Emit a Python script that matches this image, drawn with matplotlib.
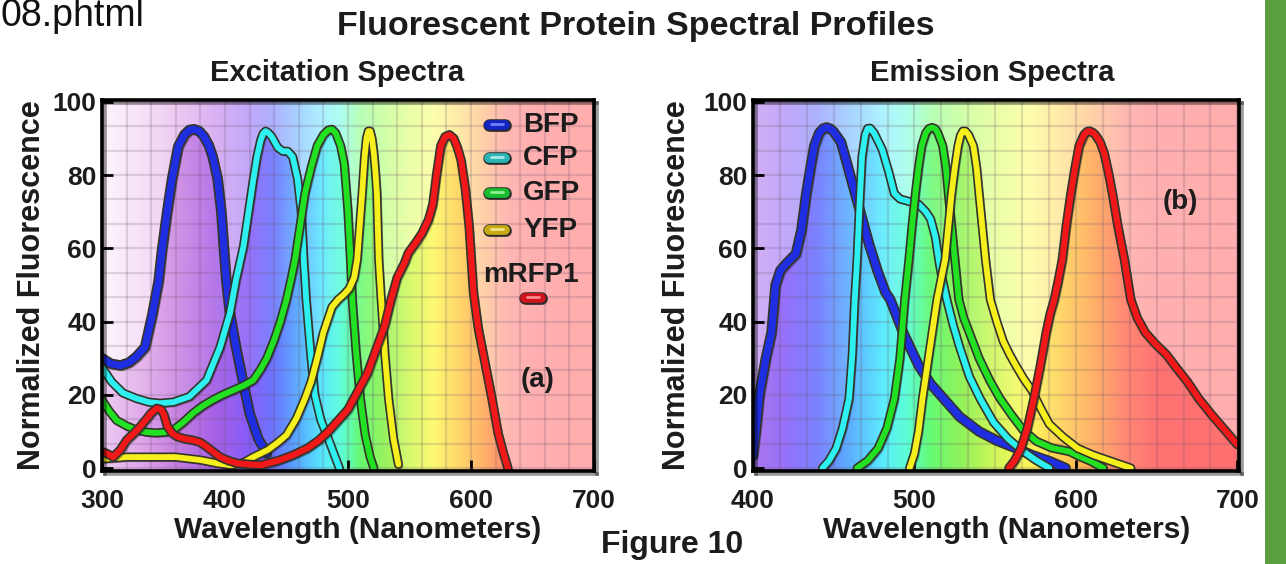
import numpy as np
import matplotlib
matplotlib.use("Agg")
import matplotlib.pyplot as plt
import matplotlib.patheffects as pe
from matplotlib.patches import Polygon, Rectangle

plt.rcParams["font.family"] = ["Liberation Sans", "DejaVu Sans"]
plt.rcParams["font.weight"] = "bold"

# ---- excitation spectra ----
EX_WL_BFP = [300, 307, 315, 322, 328, 335, 341, 346, 349, 353, 357, 362, 367, 371, 375, 379,
             383, 387, 390, 394, 397, 399, 401, 404, 409, 415, 420, 427, 434]
EX_BFP = [30, 28.5, 28, 28.8, 30.4, 33, 42, 51, 60, 70, 79, 87.8, 91, 92.3, 92.5, 92,
          90.5, 88, 85, 79, 70, 60.5, 51.4, 42.3, 33, 23, 15, 8, 4]

EX_WL_CFP = [300, 308, 317, 328, 338, 347, 358, 371, 385, 396, 404, 409, 415, 419, 423, 426,
             429, 431, 433, 435, 438, 443, 447, 451, 455, 459, 462, 464, 466, 470, 473, 478,
             484, 489, 493]
EX_CFP = [27.5, 23.5, 20.5, 19, 18, 17.7, 18, 19.5, 24, 33, 42.3, 51.4, 60.5, 69.6, 78.7, 85,
          89.5, 91.3, 92, 91.6, 90.5, 87.5, 86.5, 86.5, 85, 79, 70, 57, 46, 30, 20, 13,
          8, 3.5, 0]

EX_WL_GFP = [300, 306, 312, 320, 328, 336, 344, 352, 358, 366, 374, 382, 390, 398, 407, 415,
             423, 429, 434, 440, 445, 450, 454, 457, 461, 465, 470, 475, 480, 484, 487, 490,
             494, 497, 500, 502, 503.5, 506.5, 510, 514, 518, 521]
EX_GFP = [18.6, 15.5, 13, 11.5, 10.4, 9.8, 9.6, 9.8, 10.4, 12.5, 15, 17, 18.6, 20, 21.3, 22.5,
          24, 27, 30, 35, 40, 46, 52, 57, 66, 75, 82, 88, 91, 92.3, 92.5, 91.5,
          88, 83, 70, 57, 46, 32, 19, 9, 3, 0]

EX_WL_YFP = [300, 320, 340, 360, 380, 395, 405, 415, 423, 435, 443, 450, 458, 465, 470, 475,
             480, 484, 487, 492, 497, 501, 505, 507.5, 509.5, 511.5, 513.5, 515, 516.5, 518,
             519.5, 521, 522.3, 523.5, 525, 527, 530, 533, 537, 541]
EX_YFP = [2.5, 3, 3, 3, 2.2, 1.2, 0.8, 1.5, 3, 5, 7, 9, 13.5, 19, 23.6, 30,
          37, 41, 44, 46, 47.5, 49, 52, 57, 66, 75, 85, 90, 92, 92,
          90, 86, 81, 75, 57, 46, 31, 19, 8, 1]

EX_WL_RFP = [300, 305, 309, 315, 320, 326, 331, 336, 340, 344.5, 348, 350.5, 353, 357, 361,
             367, 374, 380, 385, 391, 396, 403, 410, 420, 429, 443, 455, 467, 476, 484, 492,
             500, 508, 516, 523, 530, 535, 540, 546, 549, 555, 560, 565.5, 569, 572, 575.5,
             579, 582.5, 586, 589, 592, 595.5, 598.5, 602, 606, 612, 617, 622, 626, 630]
EX_RFP = [4.5, 3.8, 3, 5, 7.6, 9.5, 11.3, 13.3, 15, 16.3, 16, 14.5, 11.5, 9.5, 8.6,
          8, 7.6, 7, 5.8, 4.3, 3, 2, 1.3, 1, 0.8, 2, 3.5, 5.4, 7.5, 10, 13,
          16, 21, 26, 32.5, 39, 46, 52, 56, 58.7, 61.5, 64, 67.8, 72, 80, 88,
          90.5, 91, 90, 87.5, 84, 76, 66, 48, 38, 27.7, 19, 9.6, 4.5, 0]

# ---- emission spectra ----
EM_WL_BFP = [400, 402, 404, 408, 411.5, 414, 417, 421, 426.6, 430, 433, 436, 438, 441, 443.5,
             445.7, 448, 450, 454.5, 458, 462, 467, 472, 477, 482, 485, 493, 502.6, 510, 518,
             528, 540, 551, 563, 573, 583.5, 593.6]
EM_BFP = [3.5, 11, 20, 30, 37, 50, 54, 56, 58.5, 65, 75, 83, 88, 91.5, 92.7,
          93, 92.6, 91.8, 89, 83.5, 77, 69, 61, 54, 48, 46, 37, 28, 23, 19,
          14, 10, 7.5, 5.4, 3.5, 1.9, 0]

EM_WL_CFP = [443, 447, 451.5, 455.5, 459.5, 461.5, 463, 464.5, 466, 467.5, 469.5, 471, 472.5,
             475, 480, 484, 487.5, 491, 495, 502.6, 507, 510, 513, 515, 517, 519, 520, 524,
             528, 534, 540.6, 549, 558, 566, 575, 583.5]
EM_CFP = [0, 2, 5.4, 11, 19, 31, 46, 57, 72, 85, 91, 92.7, 92.8,
          91.5, 87, 81, 75, 73.5, 73, 72, 70, 68, 63, 57, 52, 48, 46, 39,
          33, 25, 19, 12.5, 8, 5, 2.2, 0]

EM_WL_GFP = [464.5, 471, 477.5, 483, 487.6, 491, 494, 496.6, 498.5, 500.6, 502.5, 504.5, 507,
             509, 511, 513, 514.5, 517.5, 519.5, 521, 523, 525, 527.5, 530.5, 534, 540, 547,
             553, 560, 567, 575.6, 585, 596, 603, 609, 617]
EM_GFP = [0, 2, 5.4, 11, 19, 30, 46, 57, 66, 75, 82, 88, 91.5,
          92.7, 93, 92.6, 91.5, 88, 82, 75, 66, 57, 46, 41, 37, 30, 23.6,
          19, 14.6, 10.5, 7.3, 5.5, 4.5, 3, 1.9, 0]

EM_WL_YFP = [497, 500, 502.5, 505, 508, 511, 514, 516.5, 519, 521, 523, 525, 527, 528.5, 530,
             531.5, 533.5, 536.5, 538.5, 540, 542, 544, 547, 551, 555, 559, 562.8, 567.5,
             573, 578, 583.5, 592, 601, 611, 621.5, 634]
EM_YFP = [0, 4, 10, 19, 28, 37, 46, 51.5, 57, 66, 75, 82, 88, 90.8, 92, 92,
          91, 88, 82, 75, 66, 57, 46, 40, 34.6, 31, 28, 24.5,
          21, 16.5, 12, 8.5, 5.4, 3.5, 1.9, 0]

EM_WL_RFP = [558.5, 562, 566, 570, 574, 578, 581.6, 584, 586.6, 589, 591.6, 594, 596.9, 599.5,
             602, 605, 607, 608.6, 610.5, 612, 615, 617.5, 620, 622.6, 626, 630, 634, 638,
             643, 649, 656, 662, 669, 676, 684, 692, 700]
EM_RFP = [0, 2, 5.4, 11, 19, 28, 37, 42, 46, 51, 57, 66, 75, 82,
          88, 91, 91.9, 92, 91.6, 91, 89, 86, 81, 75, 66, 57, 46, 41,
          37, 34, 31, 27.5, 23.6, 19, 14.6, 10.5, 6.4]

PROTEINS = ["BFP", "CFP", "GFP", "YFP", "mRFP1"]
LINE_COLORS = ["#1f2ee0", "#2ef0f0", "#22e022", "#f5ef1e", "#f01818"]
LINE_WIDTHS = [5.2, 4.2, 4.2, 4.2, 4.4]
PILL_COLORS = ["#1424c0", "#2cb4b4", "#18be30", "#c8aa14", "#d0141e"]
PILL_LIGHT = ["#7080ff", "#a8eaea", "#90f090", "#f0e488", "#ff8a8a"]

# spectrum colouring of the backdrop (pale) and of the area under curves (deep)
SPEC_WL = [300, 330, 360, 390, 420, 440, 460, 480, 495, 510, 530, 550, 570, 590, 610, 630, 650, 700]
PALE_RGB = [(0.99, 0.96, 0.99), (0.97, 0.89, 0.97), (0.93, 0.80, 0.95), (0.86, 0.70, 0.95),
            (0.76, 0.66, 0.98), (0.68, 0.70, 1.00), (0.66, 0.83, 1.00), (0.68, 0.95, 1.00),
            (0.68, 1.00, 0.93), (0.72, 1.00, 0.72), (0.82, 1.00, 0.66), (0.92, 1.00, 0.66),
            (0.99, 1.00, 0.68), (1.00, 0.92, 0.66), (1.00, 0.82, 0.66), (1.00, 0.72, 0.70),
            (1.00, 0.69, 0.69), (1.00, 0.68, 0.68)]
DEEP_RGB = [(0.93, 0.80, 0.95), (0.88, 0.66, 0.92), (0.78, 0.50, 0.88), (0.66, 0.38, 0.90),
            (0.52, 0.36, 0.98), (0.40, 0.44, 1.00), (0.34, 0.68, 1.00), (0.34, 0.92, 1.00),
            (0.36, 1.00, 0.84), (0.40, 0.98, 0.45), (0.58, 0.95, 0.35), (0.82, 0.97, 0.35),
            (1.00, 0.97, 0.36), (1.00, 0.82, 0.32), (1.00, 0.66, 0.32), (1.00, 0.47, 0.36),
            (1.00, 0.36, 0.36), (1.00, 0.34, 0.34)]

TEXT = "#1c1c1c"
W, H = 1286, 564


def spectrum(rgb_list, lo, hi, n=700):
    wl = np.linspace(lo, hi, n)
    rgb = np.array(rgb_list)
    img = np.stack([np.interp(wl, SPEC_WL, rgb[:, k]) for k in range(3)], axis=-1)
    return img[np.newaxis, :, :]


def draw_panel(ax, lo, hi, n_cols, series):
    ext = [lo, hi, -2, 102]
    ax.imshow(spectrum(PALE_RGB, lo, hi), extent=ext, aspect="auto", zorder=0,
              interpolation="bilinear")
    deep = spectrum(DEEP_RGB, lo, hi)
    for wl, val in series:
        verts = np.column_stack([np.r_[wl[0], wl, wl[-1]], np.r_[-1, val, -1]])
        poly = Polygon(verts, closed=True, facecolor="none", edgecolor="none",
                       transform=ax.transData)
        ax.add_patch(poly)
        im = ax.imshow(deep, extent=ext, aspect="auto", zorder=0.5, alpha=0.72,
                       interpolation="bilinear")
        im.set_clip_path(poly)

    for (wl, val), color, lw in zip(series, LINE_COLORS, LINE_WIDTHS):
        ax.plot(wl, val, color=color, lw=lw, solid_joinstyle="round", solid_capstyle="round",
                zorder=3,
                path_effects=[pe.SimpleLineShadow(offset=(1.5, -1.5), alpha=0.3),
                              pe.Stroke(linewidth=lw + 2.4, foreground="#34342c"),
                              pe.Normal()])

    ax.set_xlim(lo, hi + (1 if lo == 400 else 0))
    ax.set_ylim(-0.8, 100.5)
    ax.set_xticks(np.arange(lo, 701, 100))
    ax.set_yticks(np.arange(0, 101, 20))
    ax.set_xticks(np.linspace(lo, 700, n_cols + 1), minor=True)
    ax.set_yticks(np.linspace(0, 100, 16), minor=True)
    ax.grid(which="both", color=(0.42, 0.32, 0.42), alpha=0.2, lw=1.6)
    ax.tick_params(which="minor", length=0)
    ax.tick_params(which="major", direction="in", length=8, width=2, labelsize=19,
                   labelcolor=TEXT, color="k")
    ax.tick_params(axis="x", pad=13)
    ax.tick_params(axis="y", pad=4)
    for s in ax.spines.values():
        s.set_linewidth(2.6)
        s.set_zorder(4)
        s.set_path_effects([pe.SimpleLineShadow(offset=(2.5, -2.5), alpha=0.4, shadow_color="k"),
                            pe.Normal()])


def pill(ax, x, y, k):
    ax.plot([x - 0.016, x + 0.016], [y, y], transform=ax.transAxes, color=PILL_COLORS[k],
            lw=7, solid_capstyle="round", zorder=5,
            path_effects=[pe.SimpleLineShadow(offset=(1.5, -1.5), alpha=0.35),
                          pe.Stroke(linewidth=9, foreground="#2a2a2a"), pe.Normal()])
    ax.plot([x - 0.012, x + 0.012], [y + 0.002, y + 0.002], transform=ax.transAxes,
            color=PILL_LIGHT[k], lw=2, solid_capstyle="round", zorder=6)


fig = plt.figure(figsize=(W / 100, H / 100), dpi=100)
ax1 = fig.add_axes([102 / W, 93 / H, 492 / W, 371 / H])
ax2 = fig.add_axes([753 / W, 93 / H, 486 / W, 371 / H])

draw_panel(ax1, 300, 700, 20, [(EX_WL_BFP, EX_BFP), (EX_WL_CFP, EX_CFP), (EX_WL_GFP, EX_GFP),
                              (EX_WL_YFP, EX_YFP), (EX_WL_RFP, EX_RFP)])
draw_panel(ax2, 400, 700, 18, [(EM_WL_BFP, EM_BFP), (EM_WL_CFP, EM_CFP), (EM_WL_GFP, EM_GFP),
                              (EM_WL_YFP, EM_YFP), (EM_WL_RFP, EM_RFP)])

# legend
for k, yy in enumerate([0.933, 0.844, 0.749, 0.65]):
    pill(ax1, 0.803, yy, k)
    ax1.text(0.856, yy, PROTEINS[k], transform=ax1.transAxes, fontsize=20, color=TEXT,
             ha="left", va="center", zorder=6)
ax1.text(0.872, 0.528, PROTEINS[4], transform=ax1.transAxes, fontsize=20, color=TEXT,
         ha="center", va="center", zorder=6)
pill(ax1, 0.876, 0.466, 4)

ax1.text(0.885, 0.245, "(a)", transform=ax1.transAxes, fontsize=20, color=TEXT,
         ha="center", va="center", zorder=6)
ax2.text(0.879, 0.725, "(b)", transform=ax2.transAxes, fontsize=20, color=TEXT,
         ha="center", va="center", zorder=6)

# figure texts
fig.text(0, 1 - 16 / H, "08.phtml", fontsize=27, fontweight="normal", color="#111111",
         ha="left", va="center")
fig.text(636 / W, 1 - 26 / H, "Fluorescent Protein Spectral Profiles", fontsize=24.5,
         color=TEXT, ha="center", va="center")
fig.text(337 / W, 1 - 73 / H, "Excitation Spectra", fontsize=21, color=TEXT,
         ha="center", va="center")
fig.text(992 / W, 1 - 73 / H, "Emission Spectra", fontsize=21, color=TEXT,
         ha="center", va="center")
fig.text(672 / W, 1 - 545 / H, "Figure 10", fontsize=23, color=TEXT, ha="center", va="center")
for xc in (32.5, 677):
    fig.text(xc / W, 1 - 285 / H, "Normalized Fluorescence", fontsize=22, color=TEXT,
             rotation=90, ha="center", va="center")
for xc in (357.6, 1007):
    fig.text(xc / W, 1 - 530 / H, "Wavelength (Nanometers)", fontsize=21.5, color=TEXT,
             ha="center", va="center")

fig.patches.append(Rectangle((1265 / W, 0), 21 / W, 1, transform=fig.transFigure,
                             facecolor="#5b9e3d", edgecolor="none"))

fig.savefig("out.png", dpi=100)
